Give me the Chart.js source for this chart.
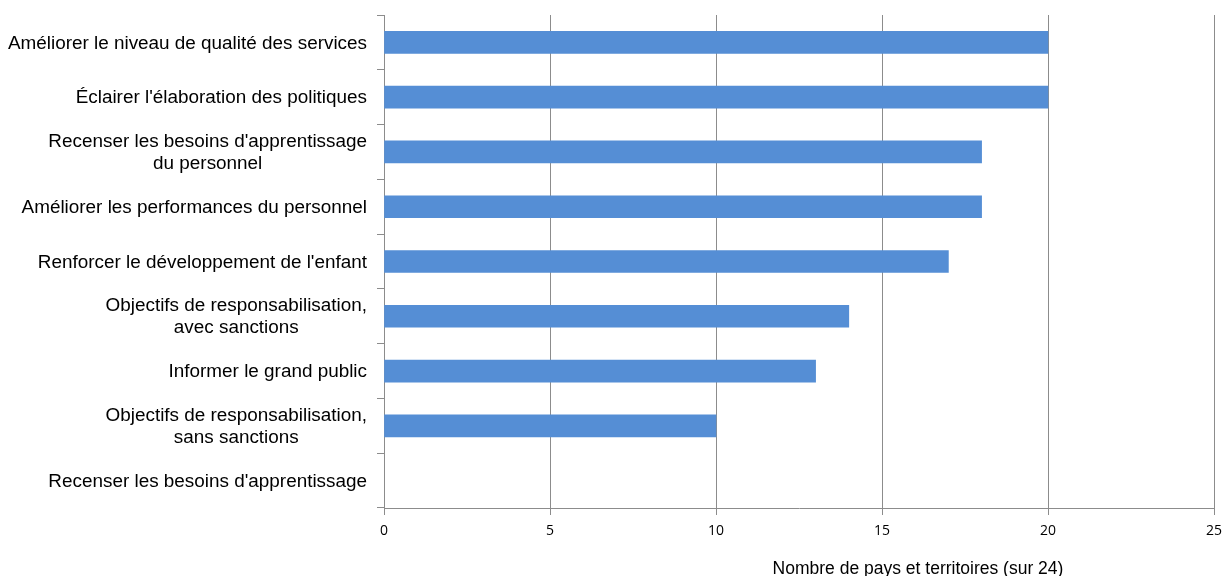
<!DOCTYPE html>
<html>
<head>
<meta charset="utf-8">
<script src="https://cdn.jsdelivr.net/npm/chart.js@4"></script>
<style>
  html, body { margin: 0; padding: 0; background: #fff; }
  #wrap { width: 1226px; height: 576px; }
</style>
</head>
<body>
<div id="wrap"><canvas id="chart"></canvas></div>
<script>
// chart data
const categories = [
  ["Améliorer le niveau de qualité des services"],
  ["Éclairer l'élaboration des politiques"],
  ["Recenser les besoins d'apprentissage", "du personnel"],
  ["Améliorer les performances du personnel"],
  ["Renforcer le développement de l'enfant"],
  ["Objectifs de responsabilisation,", "avec sanctions"],
  ["Informer le grand public"],
  ["Objectifs de responsabilisation,", "sans sanctions"],
  ["Recenser les besoins d'apprentissage"]
];
const values = [20, 20, 18, 18, 17, 14, 13, 10, null];
const xTicks = [0, 5, 10, 15, 20, 25];
const xTitle = "Nombre de pays et territoires (sur 24)";

const gridColor = "#8c8c8c";
const labelFont = "18.9px 'Liberation Sans', Arial, sans-serif";

// draws the y labels (lines centred inside a right-aligned block) and the x title
const labelPlugin = {
  id: "labels",
  afterDraw(chart) {
    const ctx = chart.ctx;
    const y = chart.scales.y;
    ctx.save();
    ctx.font = labelFont;
    ctx.fillStyle = "#000";
    ctx.textAlign = "center";
    ctx.textBaseline = "middle";
    const lineH = 22;
    categories.forEach((lines, i) => {
      const cy = y.getPixelForValue(i) + 1;
      const maxW = Math.max(...lines.map(l => ctx.measureText(l).width));
      const cx = y.right - 17 - maxW / 2;
      lines.forEach((l, j) => {
        ctx.fillText(l, cx, cy + (j - (lines.length - 1) / 2) * lineH);
      });
    });
    ctx.font = "17.5px 'Liberation Sans', Arial, sans-serif";
    ctx.fillText(xTitle, 918, 569);
    ctx.restore();
  }
};

new Chart(document.getElementById("chart"), {
  type: "bar",
  data: {
    labels: categories.map(c => c.join(" ")),
    datasets: [{
      data: values,
      backgroundColor: "#558ed5",
      barThickness: 22
    }]
  },
  options: {
    indexAxis: "y",
    responsive: true,
    maintainAspectRatio: false,
    animation: false,
    layout: { padding: { top: 15, right: 12, left: 0, bottom: 0 } },
    plugins: {
      legend: { display: false },
      tooltip: { enabled: false }
    },
    scales: {
      x: {
        min: 0,
        max: 25,
        afterBuildTicks: s => { s.ticks = xTicks.map(v => ({ value: v })); },
        grid: { color: gridColor, tickLength: 7, drawOnChartArea: true },
        border: { color: gridColor },
        ticks: {
          color: "#000",
          font: { family: "'Open Sans', sans-serif", size: 14 },
          padding: 8
        },
        afterFit: s => { s.height = 68; s.paddingRight = 0; s.paddingLeft = 0; }
      },
      y: {
        grid: { drawOnChartArea: false, color: gridColor, tickLength: 7, offset: true },
        border: { color: gridColor },
        ticks: { color: "rgba(0,0,0,0)", font: { size: 15 } },
        afterFit: s => { s.width = 384; }
      }
    }
  },
  plugins: [labelPlugin]
});
</script>
</body>
</html>
